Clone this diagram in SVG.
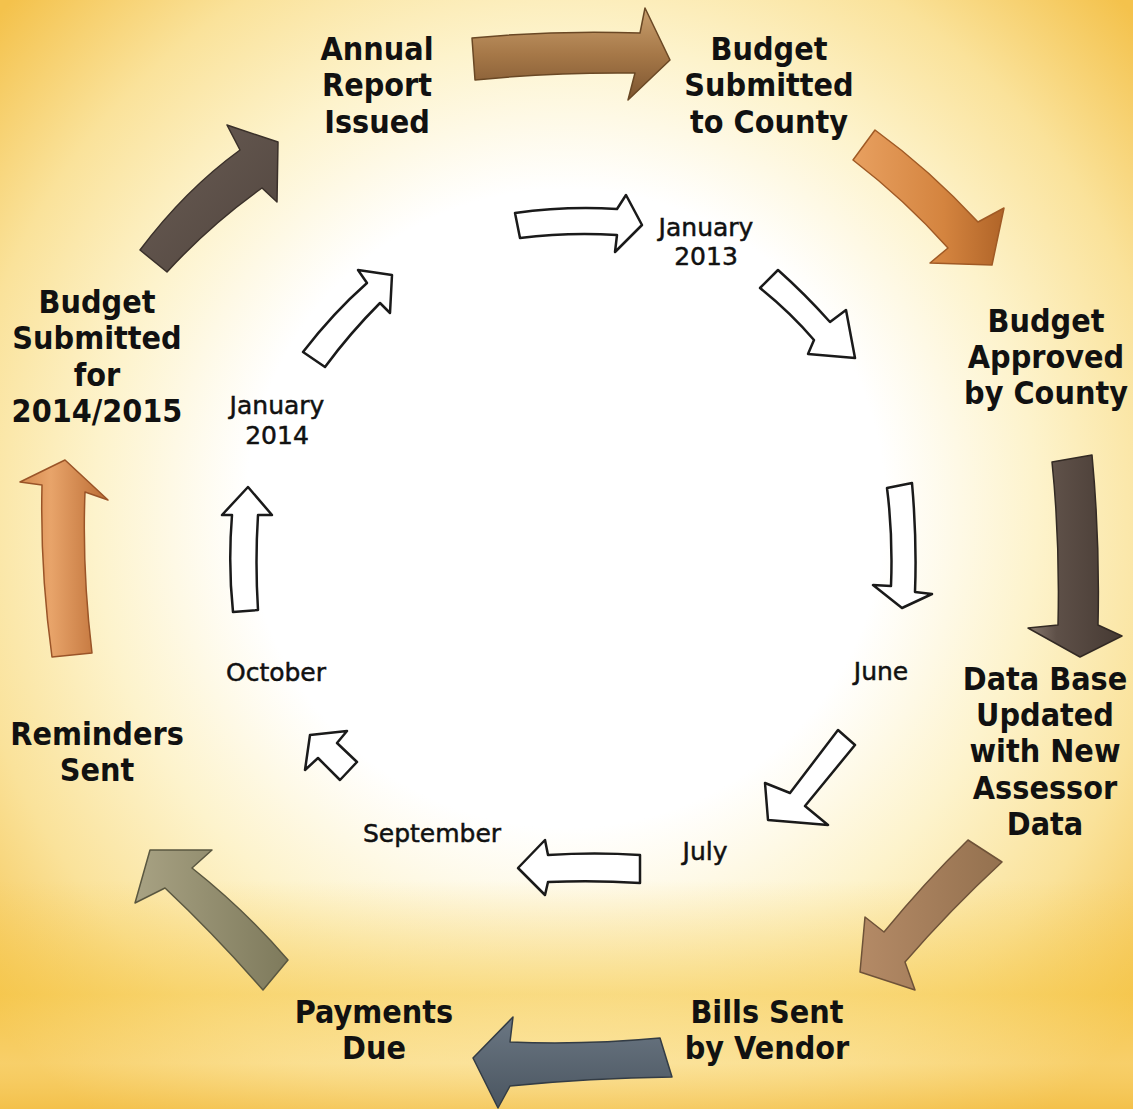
<svg xmlns="http://www.w3.org/2000/svg" width="1133" height="1109" viewBox="0 0 1133 1109">
<defs>
<radialGradient id="bg" gradientUnits="userSpaceOnUse" cx="566" cy="520" r="760" fx="566" fy="500">
<stop offset="0" stop-color="#ffffff"/>
<stop offset="0.42" stop-color="#ffffff"/>
<stop offset="0.62" stop-color="#fdf3cc"/>
<stop offset="0.8" stop-color="#fae29a"/>
<stop offset="1" stop-color="#f4c24c"/>
</radialGradient>
<linearGradient id="bottom" x1="0" y1="0" x2="0" y2="1">
<stop offset="0" stop-color="#f6c848" stop-opacity="0"/>
<stop offset="0.5" stop-color="#f6c848" stop-opacity="0.55"/>
<stop offset="0.8" stop-color="#fbdc86" stop-opacity="0.5"/>
<stop offset="1" stop-color="#f3c04a" stop-opacity="0.7"/>
</linearGradient>
<linearGradient id="g1" x1="0" y1="0" x2="0" y2="1"><stop offset="0" stop-color="#c9a06e"/><stop offset="0.5" stop-color="#a67848"/><stop offset="1" stop-color="#7d5530"/></linearGradient>
<linearGradient id="g2" x1="0" y1="0" x2="1" y2="0"><stop offset="0" stop-color="#e8a060"/><stop offset="0.6" stop-color="#d4843f"/><stop offset="1" stop-color="#b06428"/></linearGradient>
<linearGradient id="g3" x1="0" y1="0" x2="1" y2="0"><stop offset="0" stop-color="#8a7b70"/><stop offset="0.3" stop-color="#5e5048"/><stop offset="1" stop-color="#463a33"/></linearGradient>
<linearGradient id="g4" x1="0" y1="0" x2="1" y2="0"><stop offset="0" stop-color="#b48a66"/><stop offset="1" stop-color="#94714f"/></linearGradient>
<linearGradient id="g5" x1="0" y1="0" x2="0" y2="1"><stop offset="0" stop-color="#6b7783"/><stop offset="1" stop-color="#4a5560"/></linearGradient>
<linearGradient id="g6" x1="0" y1="0" x2="1" y2="0"><stop offset="0" stop-color="#a8a283"/><stop offset="1" stop-color="#7e7a5c"/></linearGradient>
<linearGradient id="g7" x1="0" y1="0" x2="1" y2="0"><stop offset="0" stop-color="#d58a4e"/><stop offset="0.35" stop-color="#e8a46a"/><stop offset="1" stop-color="#bb6c34"/></linearGradient>
<linearGradient id="g8" x1="0" y1="0" x2="1" y2="1"><stop offset="0" stop-color="#6a5d55"/><stop offset="1" stop-color="#51453e"/></linearGradient>
</defs>
<style>
.lbl{font-family:"DejaVu Sans Condensed","DejaVu Sans",sans-serif;font-stretch:condensed;font-weight:bold;font-size:32px;fill:#111;text-anchor:middle}
.mon{font-family:"DejaVu Sans",sans-serif;font-size:25px;fill:#111;stroke:#111;stroke-width:0.5;text-anchor:middle}
.oa{stroke-width:1.5;stroke-linejoin:round}
.ia{fill:#fff;stroke:#1a1a1a;stroke-width:2.5;stroke-linejoin:round}
</style>
<rect width="1133" height="1109" fill="url(#bg)"/>
<rect y="880" width="1133" height="229" fill="url(#bottom)"/>
<g id="connectors">
<path class="oa" fill="url(#g1)" stroke="#6a4825" d="M472,38 Q555,30 640,33 L645,8 L670,60 L628,100 L635,73 Q555,72 475,80 Z"/>
<path class="oa" fill="url(#g2)" stroke="#a05a25" d="M875,130 Q930,170 978,222 L1004,208 L992,265 L930,263 L948,248 Q905,200 853,160 Z"/>
<path class="oa" fill="url(#g3)" stroke="#332a24" d="M1052,462 L1092,455 Q1100,540 1098,625 L1122,636 L1080,657 L1028,628 L1058,625 Q1060,540 1052,462 Z"/>
<path class="oa" fill="url(#g4)" stroke="#6e5238" d="M968,840 L1002,862 Q950,910 905,962 L915,990 L860,972 L865,917 L884,932 Q925,882 968,840 Z"/>
<path class="oa" fill="url(#g5)" stroke="#333c45" d="M660,1038 Q585,1045 510,1042 L513,1017 L473,1058 L498,1108 L510,1086 Q590,1078 672,1077 Z"/>
<path class="oa" fill="url(#g6)" stroke="#5a5740" d="M288,960 L263,990 Q215,935 165,888 L135,903 L150,850 L212,850 L192,868 Q245,910 288,960 Z"/>
<path class="oa" fill="url(#g7)" stroke="#9a5428" d="M52,657 L92,653 Q82,570 85,492 L108,500 L65,460 L20,482 L42,485 Q40,570 52,657 Z"/>
<path class="oa" fill="url(#g8)" stroke="#3a302a" d="M140,250 Q185,190 240,150 L227,125 L278,142 L277,202 L262,188 Q210,225 167,272 Z"/>
<path class="ia" d="M515,213 Q565,206 617,209 L626,195 L642,225 L615,252 L617,235 Q568,232 520,238 Z"/>
<path class="ia" d="M778,270 Q805,294 830,322 L846,310 L855,358 L808,354 L814,340 Q790,312 760,288 Z"/>
<path class="ia" d="M887,488 L912,483 Q917,540 915,592 L932,594 L902,608 L873,585 L891,586 Q893,535 887,488 Z"/>
<path class="ia" d="M838,730 L855,745 Q828,778 805,806 L828,825 L768,820 L765,783 L790,793 Q815,760 838,730 Z"/>
<path class="ia" d="M640,855 L640,883 Q595,880 548,882 L545,895 L518,868 L545,840 L548,855 Q595,852 640,855 Z"/>
<path class="ia" d="M310,735 L347,731 L337,743 L357,762 L340,780 L318,758 L305,770 Z"/>
<path class="ia" d="M233,612 L258,610 Q255,562 258,515 L272,515 L248,487 L222,515 L232,515 Q228,565 233,612 Z"/>
<path class="ia" d="M303,352 Q333,313 367,283 L358,270 L392,275 L390,313 L380,303 Q350,333 325,367 Z"/>
</g>
<g id="annual-report"><text class="lbl" x="377" y="60">Annual</text><text class="lbl" x="377" y="96">Report</text><text class="lbl" x="377" y="133">Issued</text></g>
<g id="budget-submitted-county"><text class="lbl" x="769" y="60">Budget</text><text class="lbl" x="769" y="96">Submitted</text><text class="lbl" x="769" y="133">to County</text></g>
<g id="budget-approved"><text class="lbl" x="1046" y="332">Budget</text><text class="lbl" x="1046" y="368">Approved</text><text class="lbl" x="1046" y="404">by County</text></g>
<g id="data-base"><text class="lbl" x="1045" y="690">Data Base</text><text class="lbl" x="1045" y="726">Updated</text><text class="lbl" x="1045" y="762">with New</text><text class="lbl" x="1045" y="799">Assessor</text><text class="lbl" x="1045" y="835">Data</text></g>
<g id="bills-sent"><text class="lbl" x="767" y="1023">Bills Sent</text><text class="lbl" x="767" y="1059">by Vendor</text></g>
<g id="payments-due"><text class="lbl" x="374" y="1023">Payments</text><text class="lbl" x="374" y="1059">Due</text></g>
<g id="reminders-sent"><text class="lbl" x="97" y="745">Reminders</text><text class="lbl" x="97" y="781">Sent</text></g>
<g id="budget-submitted-2014"><text class="lbl" x="97" y="313">Budget</text><text class="lbl" x="97" y="349">Submitted</text><text class="lbl" x="97" y="386">for</text><text class="lbl" x="97" y="422">2014/2015</text></g>
<g id="jan-2013"><text class="mon" x="706" y="236">January</text><text class="mon" x="706" y="265">2013</text></g>
<g id="jan-2014"><text class="mon" x="277" y="414">January</text><text class="mon" x="277" y="444">2014</text></g>
<g id="june"><text class="mon" x="881" y="680">June</text></g>
<g id="july"><text class="mon" x="705" y="860">July</text></g>
<g id="september"><text class="mon" x="432" y="842">September</text></g>
<g id="october"><text class="mon" x="276" y="681">October</text></g>
</svg>
